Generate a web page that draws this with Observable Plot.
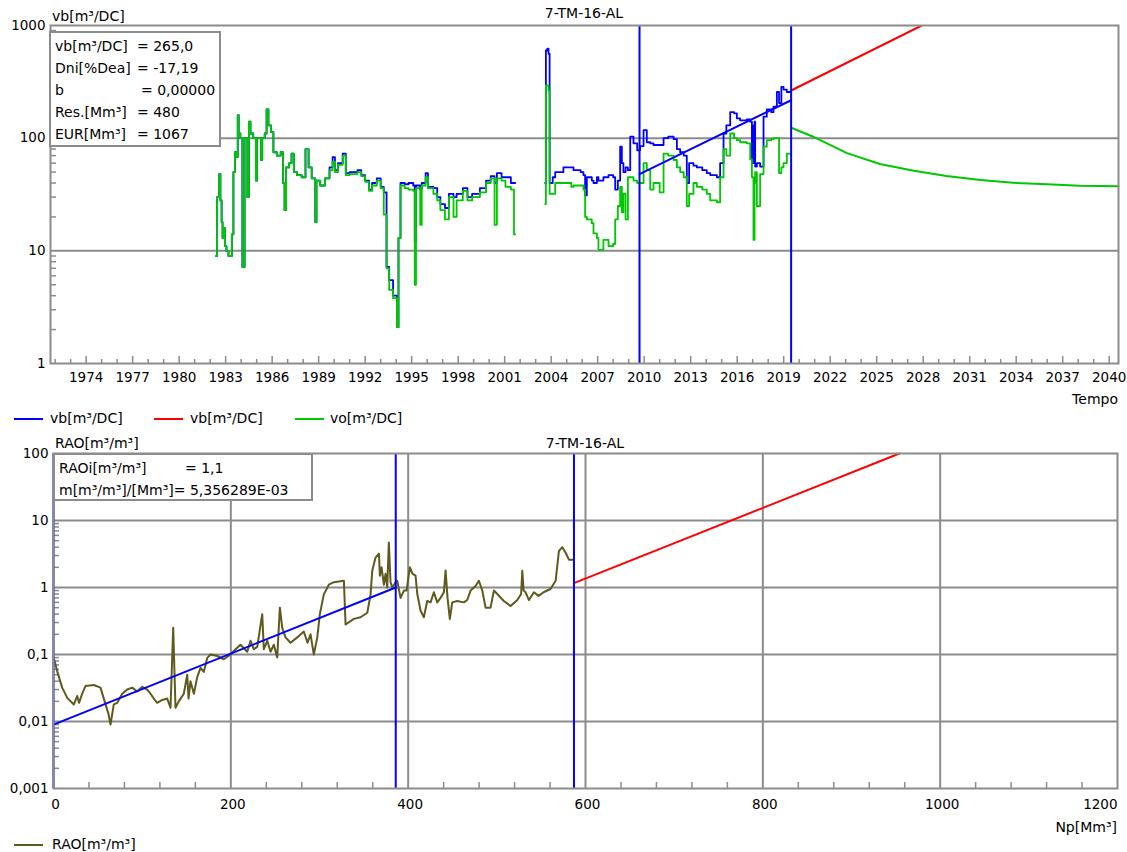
<!DOCTYPE html>
<html>
<head>
<meta charset="utf-8">
<script src="https://cdn.jsdelivr.net/npm/d3@7"></script>
<script src="https://cdn.jsdelivr.net/npm/@observablehq/plot@0.6"></script>
<style>
  body { margin: 0; background: #fff; }
  #page { position: relative; width: 1127px; height: 852px; overflow: hidden;
          font-family: "DejaVu Sans", sans-serif; font-size: 14px; color: #000; }
  .abs { position: absolute; white-space: nowrap; line-height: 16px; }
  .chart { position: absolute; left: 0; }
  .box { position: absolute; box-sizing: border-box; border: 2px solid #8c8c8c; background: #fff;
         padding: 2px 0 0 4px; line-height: 22px; white-space: nowrap; }
  .row { display: flex; }
  .lbl { display: inline-block; }
  .key { position: absolute; height: 0; border-top: 2px solid; width: 29px; }
</style>
</head>
<body>
<div id="page">
  <div id="top" class="chart" style="top:0"></div>
  <div id="bottom" class="chart" style="top:430px"></div>

  <!-- upper panel texts -->
  <div class="abs" style="left:52px; top:8px">vb[m³/DC]</div>
  <div class="abs" style="left:50px; width:1068px; top:5px; text-align:center">7-TM-16-AL</div>
  <div class="box" style="left:49px; top:31px; width:172px; height:116px">
    <div class="row"><span class="lbl" style="width:82px">vb[m³/DC]</span><span>= 265,0</span></div>
    <div class="row"><span class="lbl" style="width:82px">Dni[%Dea]</span><span>= -17,19</span></div>
    <div class="row"><span class="lbl" style="width:86px">b</span><span>= 0,00000</span></div>
    <div class="row"><span class="lbl" style="width:82px">Res.[Mm³]</span><span>= 480</span></div>
    <div class="row"><span class="lbl" style="width:82px">EUR[Mm³]</span><span>= 1067</span></div>
  </div>
  <div class="abs" style="right:9px; top:391px">Tempo</div>
  <div class="key" style="left:14px; top:418px; border-color:#0000ff"></div>
  <div class="abs" style="left:50px; top:410px">vb[m³/DC]</div>
  <div class="key" style="left:154px; top:418px; border-color:#ff0000"></div>
  <div class="abs" style="left:190px; top:410px">vb[m³/DC]</div>
  <div class="key" style="left:295px; top:418px; border-color:#00c800"></div>
  <div class="abs" style="left:330px; top:410px">vo[m³/DC]</div>

  <!-- lower panel texts -->
  <div class="abs" style="left:55px; top:435px">RAO[m³/m³]</div>
  <div class="abs" style="left:53px; width:1064px; top:435px; text-align:center">7-TM-16-AL</div>
  <div class="box" style="left:53px; top:453px; width:260px; height:48px">
    <div class="row"><span class="lbl" style="width:126px">RAOi[m³/m³]</span><span>= 1,1</span></div>
    <div class="row"><span>m[m³/m³]/[Mm³]= 5,356289E-03</span></div>
  </div>
  <div class="abs" style="right:10px; top:819px">Np[Mm³]</div>
  <div class="key" style="left:14px; top:844px; border-color:#5e5a1e"></div>
  <div class="abs" style="left:52px; top:836px">RAO[m³/m³]</div>
</div>

<script>
// ---------- upper panel: gross (vb) and oil (vo) rate history, m³/DC ----------
const histYears = [
  1982.39, 1982.45, 1982.58, 1982.66, 1982.74, 1982.80, 1982.86, 1982.95, 1983.05, 1983.18,
  1983.40, 1983.50, 1983.60, 1983.72, 1983.78, 1983.84, 1983.95, 1984.08, 1984.22, 1984.40,
  1984.50, 1984.60, 1984.78, 1984.95, 1985.02, 1985.28, 1985.36, 1985.52, 1985.64, 1985.76,
  1985.92, 1986.08, 1986.30, 1986.55, 1986.70, 1986.80, 1986.90, 1987.10, 1987.25, 1987.40,
  1987.60, 1987.90, 1988.15, 1988.35, 1988.55, 1988.78, 1988.86, 1989.10, 1989.40, 1989.70,
  1989.90, 1990.05, 1990.25, 1990.55, 1990.75, 1991.00, 1991.50, 1991.75, 1992.00, 1992.25,
  1992.45, 1992.75, 1993.00, 1993.20, 1993.38, 1993.55, 1993.80, 1994.05, 1994.15, 1994.28,
  1994.55, 1994.80, 1995.10, 1995.20, 1995.28, 1995.55, 1995.65, 1995.90, 1996.05, 1996.40,
  1996.65, 1996.85, 1997.15, 1997.40, 1997.70, 1997.90, 1998.30, 1998.60, 1998.90, 1999.40,
  1999.80, 2000.10, 2000.35, 2000.50, 2000.80, 2001.05, 2001.40, 2001.60, 2001.68,
  2002.60,
  2003.61, 2003.66, 2003.75, 2003.83, 2003.90, 2004.10, 2004.26, 2004.79, 2005.30, 2005.44,
  2005.90, 2006.08, 2006.19, 2006.30, 2006.62, 2006.73, 2006.95, 2007.05, 2007.37, 2007.70,
  2008.00, 2008.13, 2008.30, 2008.45, 2008.56, 2008.66, 2008.80, 2008.95, 2009.10, 2009.31,
  2009.55, 2009.74, 2009.96, 2010.17, 2010.39, 2010.60, 2011.00, 2011.25, 2011.55, 2011.90,
  2012.11, 2012.32, 2012.55, 2012.75, 2012.90, 2013.18, 2013.40, 2013.75, 2014.04, 2014.26,
  2014.69, 2014.90, 2015.12, 2015.30, 2015.55, 2015.80, 2015.98, 2016.19, 2016.62, 2016.84,
  2016.95, 2017.05, 2017.12, 2017.16, 2017.27, 2017.48, 2017.70, 2017.91, 2018.20, 2018.34,
  2018.56, 2018.70, 2018.85, 2018.99, 2019.20, 2019.48
];
const vbHist = [
  9, 30, 48, 28, 18, 13, 16, 11, 10, 9,
  14, 50, 75, 68, 160, 110, 100, 7.2, 100, 30,
  140, 110, 100, 42, 100, 64, 100, 110, 180, 130,
  113, 75, 70, 75, 40, 23, 55, 60, 73, 50,
  47, 45, 80, 55, 44, 18, 42, 38, 44, 55,
  68, 52, 60, 73, 49, 50, 52, 47, 42, 35,
  40, 44, 37, 33, 7.2, 5.5, 4, 2.1, 13, 40,
  39, 40, 38, 12, 38, 35, 40, 49, 37, 36,
  30, 26, 24, 32, 30, 32, 36, 30, 32, 36,
  42, 46, 40, 49, 45, 45, 40, 40, 40,
  null,
  40, 600, 622, 560, 40, 45, 50, 55, 55, 52,
  50, 47, 31, 45, 42, 40, 45, 42, 45, 47,
  45, 35, 42, 84, 60, 50, 55, 52, 103, 90,
  78, 85, 118, 92, 90, 87, 87, 100, 103, 98,
  80, 75, 70, 40, 60, 57, 55, 52, 49, 47,
  45, 60, 110, 130, 170, 166, 150, 144, 147, 140,
  60, 130, 140, 56, 60, 56, 155, 180, 170, 190,
  257, 205, 285, 270, 257, 265
];
const voHist = [
  9, 30, 48, 28, 18, 13, 16, 11, 10, 9,
  14, 50, 75, 68, 160, 110, 100, 7.2, 100, 30,
  140, 110, 100, 42, 100, 64, 100, 110, 180, 130,
  113, 75, 70, 75, 40, 23, 55, 60, 73, 50,
  47, 45, 80, 55, 44, 18, 42, 38, 44, 52,
  62, 50, 58, 70, 47, 48, 50, 46, 41, 34,
  38, 42, 36, 21, 7, 4.5, 3.8, 2.1, 13, 38,
  36, 35, 34, 5, 36, 17, 38, 45, 36, 32,
  28, 23, 19, 30, 20, 28, 34, 28, 30, 33,
  40, 44, 17, 44, 42, 37, 35, 14, 14,
  null,
  26, 294, 294, 266, 32, 32, 40, 40, 37, 38,
  38, 35, 20, 19, 17.6, 14.3, 13, 10.2, 12.5, 11,
  11.5, 19, 25, 37, 22, 32, 19, 45, 45, 42,
  40, 40, 60, 52, 35, 40, 33, 73, 70, 64,
  55, 50, 45, 25, 32, 40, 37, 35, 32, 28,
  27, 45, 80, 70, 110, 100, 96, 92, 90, 65,
  45, 12.5, 40, 50, 25, 48, 84, 96, 98, 100,
  100, 49, 55, 60, 73, 70
];

// exponential fit over the matched interval and the forecasts
const fitYears = [2009.70, 2019.48];
const vbFit = [48, 217];
const vbForecastYears = [2019.48, 2027.90];
const vbForecast = [265, 1000];
const voForecastYears = [2019.53, 2020.90, 2023.08, 2025.20, 2027.40, 2029.50, 2031.70, 2033.80, 2036.00, 2038.10, 2040.60];
const voForecast = [123, 103, 73.6, 58.9, 51.4, 46.1, 42.5, 40.2, 38.9, 37.8, 37.4];
const topCursorYears = [2009.70, 2019.48];

const majorYears = [1974, 1977, 1980, 1983, 1986, 1989, 1992, 1995, 1998, 2001, 2004, 2007, 2010,
                    2013, 2016, 2019, 2022, 2025, 2028, 2031, 2034, 2037, 2040];
const topYTicks = [1, 10, 100, 1000];
const topGrid = [10, 100];

// ---------- lower panel: water-oil ratio versus cumulative oil ----------
const npValues = [
  0.3, 4.2, 9.8, 15.5, 22.9, 26.7, 28.8, 32.4, 36.1, 45.5,
  53.0, 58.7, 62.0, 64.3, 68.0, 71.9, 77.5, 83.1, 88.8, 94.4,
  100.1, 105.7, 109.4, 113.1, 117.0, 122.6, 128.3, 132.0, 135.0, 137.6,
  141.3, 147.0, 150.8, 152.3, 154.5, 158.3, 162.1, 165.8, 169.5, 173.4,
  177.1, 184.7, 192.1, 199.7, 205.3, 210.9, 218.5, 222.2, 225.9, 229.8,
  235.4, 237.2, 241.1, 244.8, 248.5, 252.3, 255.3, 258.0, 261.7, 267.3,
  274.9, 282.3, 286.5, 289.9, 293.6, 297.5, 300.4, 304.9, 310.5, 316.2,
  327.5, 329.4, 338.7, 346.3, 353.9, 357.6, 359.5, 363.2, 367.0, 368.1,
  370.0, 372.6, 374.5, 376.4, 378.2, 380.1, 382.1, 385.8, 387.7, 391.4,
  395.2, 398.2, 401.9, 405.0, 408.3, 410.3, 414.0, 417.7, 421.5, 425.3,
  429.0, 432.8, 436.5, 440.3, 442.2, 444.4, 447.0, 449.7, 455.4, 462.8,
  466.6, 470.4, 476.0, 479.8, 483.6, 487.3, 492.9, 496.7, 500.5, 507.9,
  515.5, 523.1, 527.4, 528.7, 530.2, 532.4, 536.2, 541.8, 547.1, 552.7,
  560.6, 566.3, 570.0, 573.8, 577.6, 581.3, 586.2
];
const raoValues = [
  0.089, 0.056, 0.032, 0.0225, 0.0179, 0.024, 0.019, 0.026, 0.034, 0.035,
  0.032, 0.018, 0.013, 0.009, 0.018, 0.019, 0.026, 0.030, 0.032, 0.028,
  0.033, 0.030, 0.026, 0.022, 0.019, 0.021, 0.022, 0.016, 0.25, 0.016,
  0.020, 0.026, 0.05, 0.022, 0.04, 0.026, 0.046, 0.063, 0.055, 0.089,
  0.10, 0.095, 0.085, 0.10, 0.12, 0.14, 0.11, 0.16, 0.12, 0.13,
  0.40, 0.12, 0.16, 0.11, 0.14, 0.09, 0.50, 0.25, 0.18, 0.15,
  0.18, 0.22, 0.15, 0.20, 0.10, 0.18, 0.40, 0.79, 1.10, 1.20,
  1.26, 0.28, 0.34, 0.36, 0.42, 0.79, 1.78, 2.8, 3.2, 1.5,
  2.0, 1.1, 1.6, 1.0, 4.7, 1.2, 1.0, 1.2, 1.26, 0.70,
  0.90, 0.90, 2.0, 1.6, 1.5, 0.80, 0.45, 0.36, 0.63, 0.60,
  0.85, 0.60, 0.70, 0.85, 1.8, 0.70, 0.34, 0.60, 0.63, 0.60,
  0.65, 0.90, 1.05, 1.26, 0.90, 0.50, 0.50, 0.90, 0.80, 0.63,
  0.53, 0.65, 0.80, 1.78, 0.90, 0.85, 0.65, 0.85, 0.75, 0.85,
  0.95, 1.26, 3.5, 4.0, 3.3, 2.6, 2.6
];
const raoFitNp = [0, 386];
const raoFit = [0.009, 1.0];
const raoForecastNp = [587, 954];
const raoForecast = [1.16, 100];
const bottomCursorNp = [0, 386, 587];
const npTicks = [0, 200, 400, 600, 800, 1000];
const npLastTick = [1200];
const npGrid = [200, 400, 600, 800, 1000];
const bottomYTicks = [0.001, 0.01, 0.1, 1, 10, 100];
const bottomGrid = [0.01, 0.1, 1, 10];

// ---------- shared styling ----------
const GRID = "#8c8c8c";
const BLUE = "#0000ff", RED = "#ff0000", GREEN = "#00c800", OLIVE = "#5e5a1e";
const decimalComma = d => String(d).replace(".", ",");
const minorLog = (lo, hi) => {
  const out = [];
  for (let e = lo; e < hi; e++) for (let m = 2; m <= 9; m++) out.push(+(m * 10 ** e).toPrecision(3));
  return out;
};
const style = { fontFamily: "DejaVu Sans", fontSize: "13.5px", color: "#000", background: "transparent", overflow: "visible" };

// ---------- upper chart ----------
const topW = 1127, topH = 410, topML = 50, topMR = 9, topMT = 25, topMB = 47;
const topPlotH = topH - topMT - topMB, topPlotW = topW - topML - topMR;
const hist = histYears.map((t, i) => ({ t, vb: vbHist[i], vo: voHist[i] }));
const fit = fitYears.map((t, i) => ({ t, v: vbFit[i] }));
const vbFc = vbForecastYears.map((t, i) => ({ t, v: vbForecast[i] }));
const voFc = voForecastYears.map((t, i) => ({ t, v: voForecast[i] }));
const minorYears = d3.range(1972, 2041).filter(y => !majorYears.includes(y));

const topChart = Plot.plot({
  width: topW, height: topH,
  marginLeft: topML, marginRight: topMR, marginTop: topMT, marginBottom: topMB,
  style,
  x: { domain: [1971.7, 2040.6] },
  y: { type: "log", domain: [1, 1000] },
  marks: [
    Plot.ruleY(topGrid, { stroke: GRID, strokeWidth: 2 }),
    Plot.tickX(minorYears, { x: d => d, stroke: GRID, strokeWidth: 1.5, insetTop: topPlotH - 4 }),
    Plot.tickX(majorYears, { x: d => d, stroke: GRID, strokeWidth: 1.5, insetTop: topPlotH - 7 }),
    Plot.tickY(minorLog(0, 3), { y: d => d, stroke: GRID, strokeWidth: 1.5, insetRight: topPlotW - 6 }),
    Plot.axisX({ ticks: majorYears, tickSize: 0, tickPadding: 9, tickFormat: d => String(d), label: null }),
    Plot.axisY({ ticks: topYTicks, tickSize: 0, tickPadding: 5, tickFormat: d => String(d), label: null }),
    Plot.line(hist, { x: "t", y: "vb", curve: "step-after", stroke: BLUE, strokeWidth: 1.8 }),
    Plot.line(hist, { x: "t", y: "vo", curve: "step-after", stroke: GREEN, strokeWidth: 1.8 }),
    Plot.line(fit, { x: "t", y: "v", stroke: BLUE, strokeWidth: 2 }),
    Plot.line(vbFc, { x: "t", y: "v", stroke: RED, strokeWidth: 2, clip: true }),
    Plot.line(voFc, { x: "t", y: "v", stroke: GREEN, strokeWidth: 2 }),
    Plot.ruleX(topCursorYears, { stroke: BLUE, strokeWidth: 2 }),
    Plot.frame({ stroke: GRID, strokeWidth: 2 })
  ]
});
document.getElementById("top").append(topChart);

// ---------- lower chart ----------
const botW = 1127, botH = 405, botML = 53, botMR = 10, botMT = 23, botMB = 47;
const botPlotH = botH - botMT - botMB, botPlotW = botW - botML - botMR;
const rao = npValues.map((np, i) => ({ np, v: raoValues[i] }));
const raoFitData = raoFitNp.map((np, i) => ({ np, v: raoFit[i] }));
const raoFcData = raoForecastNp.map((np, i) => ({ np, v: raoForecast[i] }));
const npMinor = d3.range(40, 1200, 40).filter(v => v % 200 !== 0);

const bottomChart = Plot.plot({
  width: botW, height: botH,
  marginLeft: botML, marginRight: botMR, marginTop: botMT, marginBottom: botMB,
  style,
  x: { domain: [0, 1200] },
  y: { type: "log", domain: [0.001, 100] },
  marks: [
    Plot.ruleY(bottomGrid, { stroke: GRID, strokeWidth: 2 }),
    Plot.ruleX(npGrid, { stroke: GRID, strokeWidth: 2 }),
    Plot.tickX(npMinor, { x: d => d, stroke: GRID, strokeWidth: 1.5, insetTop: botPlotH - 6 }),
    Plot.tickY(minorLog(-3, 2), { y: d => d, stroke: GRID, strokeWidth: 1.5, insetRight: botPlotW - 6 }),
    Plot.axisX({ ticks: npTicks, tickSize: 0, tickPadding: 11, dx: 2, tickFormat: d => String(d), label: null }),
    Plot.axisX({ ticks: npLastTick, tickSize: 0, tickPadding: 11, textAnchor: "end", tickFormat: d => String(d), label: null }),
    Plot.axisY({ ticks: bottomYTicks, tickSize: 0, tickPadding: 5, tickFormat: decimalComma, label: null }),
    Plot.line(rao, { x: "np", y: "v", stroke: OLIVE, strokeWidth: 2 }),
    Plot.line(raoFitData, { x: "np", y: "v", stroke: BLUE, strokeWidth: 2 }),
    Plot.line(raoFcData, { x: "np", y: "v", stroke: RED, strokeWidth: 2 }),
    Plot.ruleX(bottomCursorNp, { stroke: BLUE, strokeWidth: 2 }),
    Plot.frame({ stroke: GRID, strokeWidth: 2 })
  ]
});
document.getElementById("bottom").append(bottomChart);
</script>
</body>
</html>
